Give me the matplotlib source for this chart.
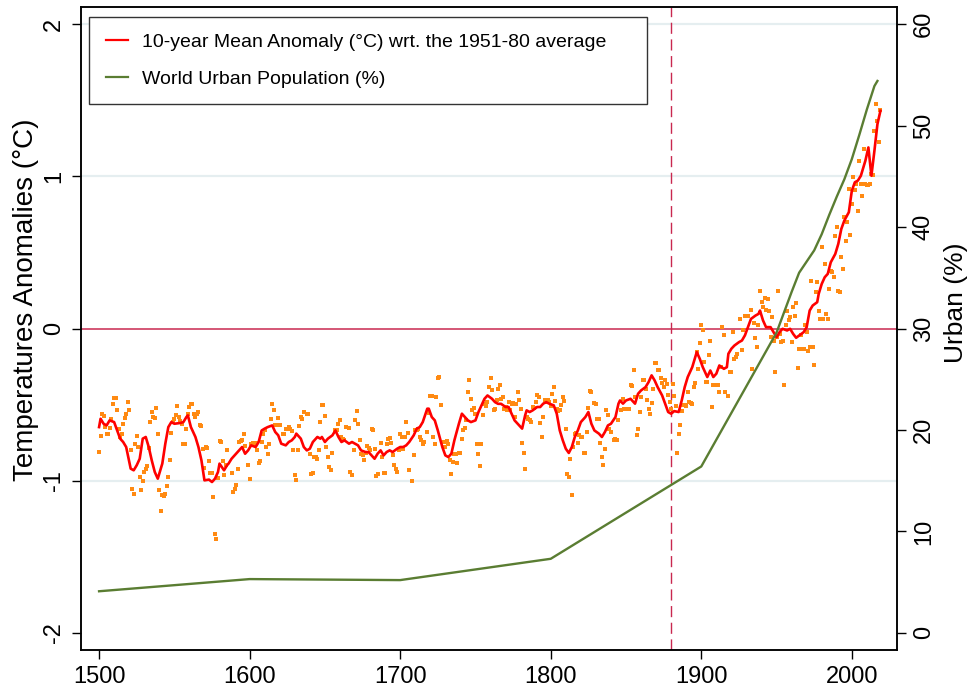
import numpy as np
import matplotlib
matplotlib.use("Agg")
import matplotlib.pyplot as plt
from matplotlib.lines import Line2D

plt.rcParams['font.family'] = ['Liberation Sans', 'DejaVu Sans']
plt.rcParams['axes.unicode_minus'] = False

nan = np.nan

# annual temperature anomaly (°C, wrt 1951-80), one row per decade from 1500
annual_anom = [
    -0.812, -0.707, -0.565, -0.578, -0.648, -0.696, -0.696, -0.652, -0.593, -0.499,  # 1500
    -0.455, -0.455, -0.534, -0.659, -0.713, -0.691, -0.626, -0.586, -0.560, -0.484,  # 1510
    -0.534, -0.801, -1.053, -1.085, -0.761, -0.707, -0.779, -0.976, -1.059, -1.002,  # 1520
    -0.943, -0.921, -0.906, -0.783, -0.615, -0.549, -0.582, -0.586, -0.521, -0.691,  # 1530
    -1.059, -1.199, -1.096, -1.101, -1.090, -1.037, -0.976, -0.867, -0.687, -0.615,  # 1540
    -0.593, -0.571, -0.510, -0.582, -0.608, -0.630, -0.761, -0.761, -0.659, -0.565,  # 1550
    -0.516, -0.499, -0.495, -0.565, -0.582, -0.565, -0.549, -0.637, -0.643, -0.790,  # 1560
    -0.915, -0.779, -0.783, -0.871, -0.950, -0.950, -1.107, -1.348, -1.381, -0.980,  # 1570
    -0.740, -0.746, -0.871, -0.965, -0.899, -0.801, nan, nan, -0.950, -1.074,        # 1580
    -1.053, -1.031, -0.921, -0.746, -0.740, -0.735, -0.696, -0.775, nan, -0.899,     # 1590
    -0.987, -0.761, -0.753, -0.761, -0.753, -0.796, -0.884, -0.871, -0.746, -0.696,  # 1600
    -0.670, -0.779, -0.827, -0.757, -0.593, -0.499, -0.538, -0.637, -0.637, -0.586,  # 1610
    -0.637, nan, -0.691, -0.696, -0.659, nan, -0.648, -0.659, -0.674, -0.796,        # 1620
    -0.965, -0.993, -0.796, -0.643, -0.582, -0.593, -0.549, nan, -0.565, -0.565,     # 1630
    -0.823, -0.954, -0.950, -0.845, -0.845, -0.856, -0.796, -0.615, -0.505, -0.505,  # 1640
    -0.578, -0.779, -0.845, -0.910, -0.932, -0.818, nan, -0.670, -0.665, -0.626,     # 1650
    -0.604, -0.713, -0.724, -0.731, -0.648, nan, -0.652, -0.943, -0.965, -0.801,     # 1660
    -0.604, -0.543, -0.626, -0.731, -0.823, -0.834, -0.862, -0.818, -0.775, -0.783,  # 1670
    -0.801, -0.659, -0.665, -0.790, -0.972, -0.954, nan, -0.753, -0.845, -0.950,     # 1680
    -0.950, -0.757, -0.724, -0.718, -0.753, -0.834, -0.899, -0.921, -0.943, -0.796,  # 1690
    -0.696, -0.713, -0.790, -0.713, -0.617, -0.687, -0.932, nan, -1.002, -0.834,     # 1700
    -0.670, -0.665, -0.659, -0.713, -0.731, -0.761, -0.746, nan, -0.681, -0.556,     # 1710
    -0.446, -0.446, -0.713, -0.757, -0.451, -0.324, -0.319, -0.505, nan, -0.746,     # 1720
    -0.779, -0.740, -0.757, -0.867, -0.954, -0.877, -0.827, -0.823, -0.884, -0.818,  # 1730
    -0.818, -0.724, -0.670, -0.652, -0.604, -0.418, -0.341, -0.462, -0.538, -0.521,  # 1740
    -0.565, -0.761, -0.823, -0.906, -0.757, -0.571, -0.499, -0.512, -0.484, -0.385,  # 1750
    -0.324, -0.407, -0.538, -0.527, -0.473, -0.396, -0.374, -0.462, -0.451, -0.527,  # 1760
    -0.516, -0.538, -0.484, -0.534, -0.495, -0.490, -0.582, -0.495, -0.418, -0.473,  # 1770
    -0.527, -0.753, -0.818, -0.921, -0.582, -0.593, -0.604, -0.615, -0.516, -0.521,  # 1780
    -0.484, -0.440, -0.451, -0.621, -0.713, -0.582, -0.473, -0.484, -0.473, -0.484,  # 1790
    -0.512, -0.433, -0.385, -0.477, -0.527, -0.543, -0.538, -0.505, -0.451, -0.477,  # 1800
    -0.659, -0.954, -0.976, -0.856, -1.096, -0.779, -0.691, -0.687, -0.753, -0.702,  # 1810
    -0.713, -0.713, -0.818, -0.818, -0.681, -0.521, -0.411, -0.418, nan, -0.490,     # 1820
    -0.495, -0.593, -0.593, -0.753, -0.845, -0.899, -0.790, -0.534, -0.571, -0.659,  # 1830
    -0.681, nan, -0.735, -0.724, -0.735, -0.604, nan, -0.538, -0.462, -0.527,        # 1840
    -0.527, nan, -0.527, -0.374, -0.381, -0.271, -0.451, -0.702, -0.659, -0.549,     # 1850
    -0.451, -0.337, -0.337, -0.396, -0.473, -0.527, -0.560, -0.488, -0.396, -0.228,  # 1860
    -0.228, -0.271, -0.276, -0.324, -0.359, -0.385, -0.337, -0.368, -0.440, -0.484,  # 1870
    -0.527, -0.368, -0.446, -0.512, -0.816, -0.696, -0.637, -0.545, -0.505, -0.505,  # 1880
    -0.510, -0.418, -0.484, -0.488, -0.495, -0.385, -0.359, -0.155, -0.265, -0.096,  # 1890
    0.020, -0.009, -0.221, -0.352, -0.352, -0.177, -0.083, -0.516, -0.374, -0.374,   # 1900
    nan, -0.374, -0.418, -0.254, 0.013, -0.046, -0.418, nan, -0.446, -0.287,         # 1910
    -0.287, -0.024, -0.199, -0.188, -0.166, nan, 0.063, -0.144, -0.013, 0.079,       # 1920
    nan, 0.085, nan, 0.123, -0.265, 0.035, -0.061, -0.123, 0.020, 0.245,             # 1930
    0.173, 0.144, 0.201, 0.123, 0.195, 0.118, -0.057, 0.074, -0.079, -0.287,         # 1940
    -0.057, 0.249, -0.035, -0.090, -0.079, -0.374, 0.020, 0.118, 0.053, 0.074,       # 1950
    -0.090, 0.140, 0.085, 0.166, -0.258, -0.133, -0.046, -0.133, -0.133, 0.020,      # 1960
    -0.024, -0.149, -0.123, 0.315, -0.123, -0.243, 0.239, 0.304, 0.118, 0.063,       # 1970
    0.534, 0.063, 0.425, 0.096, 0.063, 0.260, 0.381, 0.370, 0.337, 0.611,            # 1980
    0.665, 0.249, 0.239, 0.468, 0.392, 0.731, 0.578, 0.698, 0.917, 0.617,            # 1990
    0.818, 0.993, 0.910, 0.950, 0.775, 1.103, 0.950, 0.873, 1.179, 0.950,            # 2000
    0.945, 0.945, 0.950, 1.015, 1.011, 1.300, 1.475, 1.365, 1.223, 1.435,            # 2010
]
years = np.arange(1500, 1500 + len(annual_anom))

# 10-year running mean of the anomaly
ma_years = [
    1500, 1501, 1503, 1505, 1507, 1510, 1512, 1514, 1516, 1518, 1521, 1523, 1525, 1527, 1529,
    1531, 1533, 1535, 1537, 1539, 1542, 1544, 1546, 1548, 1550, 1554, 1556, 1558, 1559, 1561,
    1564, 1566, 1568, 1570, 1573, 1575, 1577, 1579, 1580, 1583, 1585, 1586, 1588, 1590, 1593,
    1595, 1597, 1599, 1601, 1604, 1606, 1608, 1610, 1612, 1615, 1617, 1619, 1621, 1624, 1626,
    1628, 1630, 1631, 1634, 1636, 1638, 1640, 1642, 1645, 1647, 1648, 1650, 1652, 1655, 1657,
    1659, 1661, 1663, 1666, 1668, 1670, 1672, 1674, 1677, 1679, 1681, 1683, 1685, 1687, 1689,
    1691, 1693, 1695, 1698, 1700, 1702, 1704, 1706, 1709, 1711, 1713, 1715, 1718, 1719, 1721,
    1723, 1725, 1728, 1730, 1732, 1734, 1736, 1739, 1741, 1743, 1745, 1747, 1750, 1752, 1754,
    1756, 1758, 1761, 1763, 1765, 1767, 1770, 1772, 1774, 1776, 1778, 1781, 1783, 1784, 1786,
    1788, 1791, 1793, 1795, 1797, 1799, 1802, 1804, 1806, 1808, 1810, 1812, 1814, 1816, 1818,
    1820, 1823, 1825, 1827, 1829, 1832, 1834, 1836, 1838, 1840, 1843, 1845, 1846, 1848, 1850,
    1853, 1855, 1856, 1858, 1860, 1863, 1865, 1867, 1869, 1871, 1874, 1876, 1878, 1880, 1882,
    1885, 1887, 1889, 1891, 1894, 1896, 1897, 1899, 1901, 1904, 1906, 1908, 1910, 1912, 1915,
    1917, 1918, 1920, 1922, 1925, 1927, 1929, 1931, 1933, 1936, 1938, 1939, 1941, 1943, 1946,
    1948, 1950, 1952, 1954, 1957, 1959, 1961, 1963, 1965, 1968, 1970, 1972, 1974, 1977, 1978,
    1980, 1982, 1984, 1986, 1989, 1991, 1993, 1995, 1998, 2000, 2002, 2004, 2006, 2009, 2011,
    2012, 2013, 2015, 2017, 2019,
]
ma_anom = [
    -0.648, -0.593, -0.626, -0.637, -0.604, -0.615, -0.670, -0.724, -0.746, -0.779, -0.921, -0.932, -0.899, -0.856, -0.724,
    -0.713, -0.779, -0.867, -0.943, -0.987, -0.888, -0.757, -0.648, -0.615, -0.626, -0.621, -0.615, -0.582, -0.571, -0.648,
    -0.713, -0.779, -0.867, -0.998, -0.993, -1.009, -0.987, -0.943, -0.888, -0.932, -0.899, -0.888, -0.856, -0.834, -0.801,
    -0.779, -0.823, -0.801, -0.768, -0.779, -0.746, -0.670, -0.658, -0.648, -0.637, -0.680, -0.702, -0.757, -0.768, -0.746,
    -0.735, -0.713, -0.691, -0.724, -0.779, -0.801, -0.790, -0.746, -0.713, -0.724, -0.713, -0.746, -0.724, -0.702, -0.670,
    -0.713, -0.746, -0.735, -0.757, -0.746, -0.757, -0.768, -0.801, -0.812, -0.812, -0.834, -0.856, -0.823, -0.801, -0.834,
    -0.812, -0.801, -0.812, -0.790, -0.779, -0.779, -0.768, -0.746, -0.702, -0.658, -0.648, -0.615, -0.527, -0.527, -0.582,
    -0.604, -0.670, -0.779, -0.834, -0.845, -0.823, -0.735, -0.626, -0.560, -0.582, -0.604, -0.615, -0.604, -0.549, -0.505,
    -0.462, -0.440, -0.462, -0.484, -0.495, -0.495, -0.516, -0.516, -0.560, -0.604, -0.626, -0.658, -0.571, -0.538, -0.549,
    -0.538, -0.516, -0.516, -0.494, -0.484, -0.494, -0.505, -0.560, -0.670, -0.735, -0.790, -0.818, -0.779, -0.713, -0.670,
    -0.615, -0.582, -0.549, -0.626, -0.670, -0.691, -0.713, -0.680, -0.637, -0.626, -0.582, -0.494, -0.473, -0.494, -0.473,
    -0.462, -0.484, -0.494, -0.429, -0.407, -0.385, -0.352, -0.308, -0.341, -0.385, -0.440, -0.494, -0.549, -0.560, -0.543,
    -0.549, -0.473, -0.385, -0.319, -0.254, -0.188, -0.155, -0.199, -0.254, -0.319, -0.276, -0.319, -0.297, -0.243, -0.265,
    -0.254, -0.166, -0.133, -0.112, -0.090, -0.079, -0.045, 0.009, 0.063, 0.085, 0.096, 0.118, 0.053, 0.009, 0.009,
    -0.024, -0.057, -0.024, -0.002, -0.013, -0.002, -0.035, -0.061, -0.046, -0.024, 0.009, 0.118, 0.151, 0.173, 0.228,
    0.293, 0.337, 0.359, 0.435, 0.490, 0.556, 0.654, 0.709, 0.764, 0.906, 0.961, 0.972, 1.004, 1.103, 1.190,
    1.094, 1.004, 1.168, 1.343, 1.431,
]

# share of world population living in cities (%)
urban_years = [1500, 1600, 1700, 1800, 1900, 1950, 1960, 1965, 1970, 1975, 1980, 1985,
               1990, 1995, 2000, 2005, 2010, 2015, 2017]
urban_pct = [4.1, 5.3, 5.2, 7.3, 16.4, 29.6, 33.6, 35.5, 36.6, 37.7, 39.3, 41.2,
             43.0, 44.7, 46.7, 49.1, 51.6, 53.9, 54.4]

x_ticks = [1500, 1600, 1700, 1800, 1900, 2000]
temp_ticks = [-2, -1, 0, 1, 2]
urban_ticks = [0, 10, 20, 30, 40, 50, 60]
grid_levels = [2, 1, -1]
marker_year = 1880

RED = '#ff0000'
ORANGE = '#ff8a12'
GREEN = '#5a7d32'
CRIMSON = '#c9284f'

fig = plt.figure(figsize=(9.68, 6.91), dpi=100)
ax = fig.add_axes([81 / 968, 41 / 691, 816 / 968, 643 / 691])
ax2 = ax.twinx()

for lvl in grid_levels:
    ax.axhline(lvl, color='#e5eef0', lw=1.6, zorder=0)
ax.axhline(0, color=CRIMSON, lw=1.1, zorder=1.5)
ax.axvline(marker_year, color=CRIMSON, lw=1.0, dashes=(8, 4), zorder=1.5)

ax.scatter(years, annual_anom, marker='s', s=12, color=ORANGE, linewidths=0, zorder=2)
ax.plot(ma_years, ma_anom, color=RED, lw=1.9, zorder=3)
ax2.plot(urban_years, urban_pct, color=GREEN, lw=1.7)

ax.set_xlim(1488, 2030)
ax.set_ylim(-2.113, 2.113)
ax2.set_ylim(-1.69, 61.69)

ax.set_xticks(x_ticks)
ax.set_yticks(temp_ticks)
ax2.set_yticks(urban_ticks)

ax.tick_params(axis='both', direction='out', length=6.5, width=1.0, labelsize=17, pad=5)
ax2.tick_params(axis='y', direction='out', length=6.5, width=1.0, labelsize=17, pad=5)
plt.setp(ax.get_yticklabels(), rotation=90, va='center')
plt.setp(ax2.get_yticklabels(), rotation=90, va='center')

ax.set_ylabel('Temperatures Anomalies (°C)', fontsize=20)
ax.yaxis.set_label_coords(-0.051, 0.545)
ax2.set_ylabel('Urban (%)', fontsize=19)
ax2.yaxis.set_label_coords(1.058, 0.54)

for a in (ax, ax2):
    for sp in a.spines.values():
        sp.set_linewidth(1.1)
        sp.set_color('black')

handles = [Line2D([], [], color=RED, lw=1.6), Line2D([], [], color=GREEN, lw=1.6)]
labels = ['10-year Mean Anomaly (°C) wrt. the 1951-80 average', 'World Urban Population (%)']
leg = ax2.legend(handles, labels, loc='upper left', bbox_to_anchor=(0.0098, 0.855, 0.684, 0.130),
                 mode='expand', borderaxespad=0, fontsize=14, handlelength=1.15,
                 handletextpad=0.75, labelspacing=1.0, borderpad=0.85, fancybox=False,
                 edgecolor='#333333', framealpha=1)
leg.get_frame().set_linewidth(1.0)

fig.savefig('out.png', dpi=100)
